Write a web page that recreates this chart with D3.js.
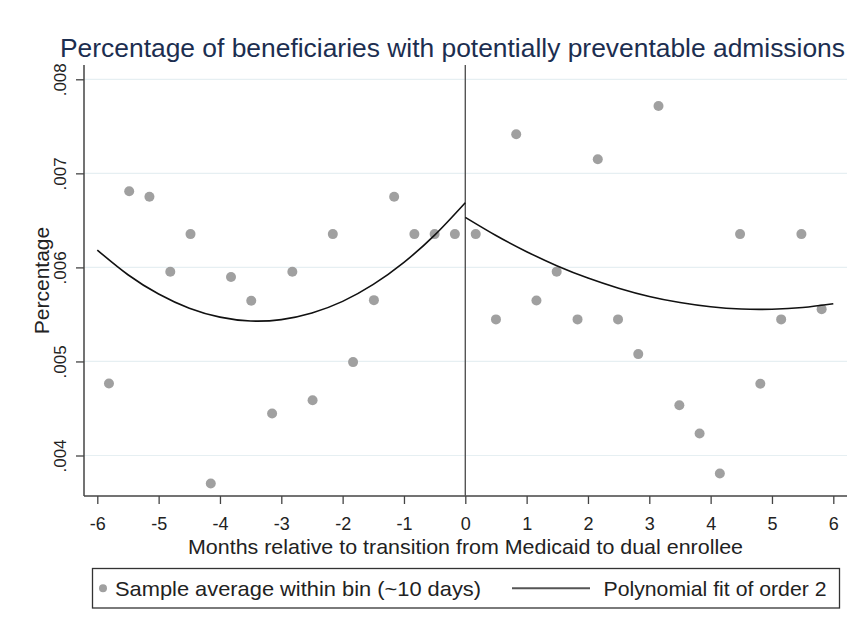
<!DOCTYPE html>
<html>
<head>
<meta charset="utf-8">
<script src="https://cdn.jsdelivr.net/npm/d3@7"></script>
<style>
  body { margin: 0; background: #fff; }
  svg { display: block; font-family: "Liberation Sans", Arial, sans-serif; }
</style>
</head>
<body>
<svg id="chart" width="859" height="630"></svg>
<script>
// bin centres (months) and bin averages
const binMonths = [-5.81, -5.48, -5.15, -4.81, -4.48, -4.15, -3.82, -3.49, -3.15, -2.82, -2.49, -2.16,
                   -1.83, -1.49, -1.16, -0.83, -0.50, -0.17, 0.17, 0.50, 0.83, 1.16, 1.49, 1.83,
                   2.16, 2.49, 2.82, 3.15, 3.49, 3.82, 4.15, 4.48, 4.81, 5.15, 5.48, 5.81];
const binValues = [.004766, .006809, .006751, .005953, .006354, .003702, .005897, .005645, .004447, .005953, .004588, .006354,
                   .004993, .005652, .006751, .006354, .006354, .006354, .006354, .005447, .007415, .005649, .005955, .005447,
                   .007149, .005447, .005078, .007716, .004535, .004234, .003809, .006354, .004762, .005447, .006354, .005556];

// quadratic fit, read at half-month steps on each side of the cut-off
const fitLeftMonths = [-6, -5.5, -5, -4.5, -4, -3.5, -3, -2.5, -2, -1.5, -1, -0.5, 0];
const fitLeftValues = [.006184, .005922, .005717, .005566, .005471, .005430, .005445, .005515, .005639, .005819, .006054, .006343, .006688];
const fitRightMonths = [0, 0.5, 1, 1.5, 2, 2.5, 3, 3.5, 4, 4.5, 5, 5.5, 6];
const fitRightValues = [.006532, .006339, .006167, .006016, .005887, .005779, .005691, .005626, .005581, .005557, .005555, .005573, .005613];

const xTicks = [-6, -5, -4, -3, -2, -1, 0, 1, 2, 3, 4, 5, 6];
const xTickLabels = ["-6", "-5", "-4", "-3", "-2", "-1", "0", "1", "2", "3", "4", "5", "6"];
const yTicks = [.004, .005, .006, .007, .008];
const yTickLabels = [".004", ".005", ".006", ".007", ".008"];

const titleText = "Percentage of beneficiaries with potentially preventable admissions";
const xTitle = "Months relative to transition from Medicaid to dual enrollee";
const yTitle = "Percentage";
const legendLabels = ["Sample average within bin (~10 days)", "Polynomial fit of order 2"];

const svg = d3.select("#chart");

const plot = { left: 84, right: 847, top: 65, bottom: 496 };

const x = d3.scaleLinear().domain([-6, 6]).range([97.3, 833.3]);
const y = d3.scaleLinear().domain([.004, .008]).range([455.5, 79.3]);

// title
svg.append("text")
    .attr("x", 60)
    .attr("y", 57)
    .attr("font-size", 26)
    .attr("fill", "#1c2e50")
    .attr("textLength", 785)
    .attr("lengthAdjust", "spacingAndGlyphs")
    .text(titleText);

// gridlines
svg.append("g")
    .selectAll("line")
    .data(yTicks)
    .enter().append("line")
    .attr("x1", plot.left)
    .attr("x2", plot.right)
    .attr("y1", d => y(d))
    .attr("y2", d => y(d))
    .attr("stroke", "#e6eff2")
    .attr("stroke-width", 1.2);

// y axis
const yAxis = svg.append("g")
    .attr("transform", `translate(${plot.left},0)`)
    .call(d3.axisLeft(y).tickValues(yTicks).tickSize(8).tickSizeOuter(0)
        .tickFormat((d, i) => yTickLabels[i]));
yAxis.select(".domain").remove();
yAxis.selectAll(".tick line").attr("stroke", "#444").attr("stroke-width", 1.3);
yAxis.selectAll(".tick text")
    .attr("transform", "rotate(-90)")
    .attr("x", 0)
    .attr("y", -18)
    .attr("dy", 0)
    .attr("text-anchor", "middle")
    .attr("font-size", 17)
    .attr("fill", "#222");

// x axis
const xAxis = svg.append("g")
    .attr("transform", `translate(0,${plot.bottom})`)
    .call(d3.axisBottom(x).tickValues(xTicks).tickSize(8).tickSizeOuter(0)
        .tickFormat((d, i) => xTickLabels[i]));
xAxis.select(".domain").remove();
xAxis.selectAll(".tick line").attr("stroke", "#444").attr("stroke-width", 1.3);
xAxis.selectAll(".tick text")
    .attr("y", 34)
    .attr("dy", 0)
    .attr("font-size", 18)
    .attr("fill", "#222");

// axis lines
svg.append("line")
    .attr("x1", plot.left).attr("x2", plot.left)
    .attr("y1", plot.top).attr("y2", plot.bottom)
    .attr("stroke", "#444").attr("stroke-width", 1.5);
svg.append("line")
    .attr("x1", plot.left).attr("x2", plot.right)
    .attr("y1", plot.bottom).attr("y2", plot.bottom)
    .attr("stroke", "#444").attr("stroke-width", 1.5);

// cut-off line at 0
svg.append("line")
    .attr("x1", x(0)).attr("x2", x(0))
    .attr("y1", plot.top).attr("y2", plot.bottom)
    .attr("stroke", "#555").attr("stroke-width", 1.4);

// axis titles
svg.append("text")
    .attr("x", (188 + 743) / 2)
    .attr("y", 554)
    .attr("text-anchor", "middle")
    .attr("font-size", 21)
    .attr("fill", "#222")
    .attr("textLength", 555)
    .attr("lengthAdjust", "spacingAndGlyphs")
    .text(xTitle);

svg.append("text")
    .attr("transform", `translate(49,${(plot.top + plot.bottom) / 2}) rotate(-90)`)
    .attr("text-anchor", "middle")
    .attr("font-size", 21)
    .attr("fill", "#222")
    .text(yTitle);

// bin averages
const points = binMonths.map((m, i) => ({ month: m, value: binValues[i] }));
svg.append("g")
    .selectAll("circle")
    .data(points)
    .enter().append("circle")
    .attr("cx", d => x(d.month))
    .attr("cy", d => y(d.value))
    .attr("r", 5)
    .attr("fill", "#a0a0a0");

// fitted curves
const line = d3.line()
    .x(d => x(d[0]))
    .y(d => y(d[1]))
    .curve(d3.curveNatural);

[[fitLeftMonths, fitLeftValues], [fitRightMonths, fitRightValues]].forEach(([ms, vs]) => {
    svg.append("path")
        .datum(ms.map((m, i) => [m, vs[i]]))
        .attr("fill", "none")
        .attr("stroke", "#111")
        .attr("stroke-width", 1.6)
        .attr("d", line);
});

// legend
const legend = svg.append("g");
legend.append("rect")
    .attr("x", 92.5).attr("y", 568.5)
    .attr("width", 747).attr("height", 39.5)
    .attr("fill", "#fff")
    .attr("stroke", "#333")
    .attr("stroke-width", 1.3);
legend.append("circle")
    .attr("cx", 103).attr("cy", 588.3)
    .attr("r", 4)
    .attr("fill", "#a0a0a0");
legend.append("text")
    .attr("x", 115).attr("y", 596)
    .attr("font-size", 21)
    .attr("fill", "#222")
    .attr("textLength", 366)
    .attr("lengthAdjust", "spacingAndGlyphs")
    .text(legendLabels[0]);
legend.append("line")
    .attr("x1", 512).attr("x2", 590)
    .attr("y1", 588.3).attr("y2", 588.3)
    .attr("stroke", "#555")
    .attr("stroke-width", 2);
legend.append("text")
    .attr("x", 603.5).attr("y", 596)
    .attr("font-size", 21)
    .attr("fill", "#222")
    .attr("textLength", 223)
    .attr("lengthAdjust", "spacingAndGlyphs")
    .text(legendLabels[1]);
</script>
</body>
</html>
